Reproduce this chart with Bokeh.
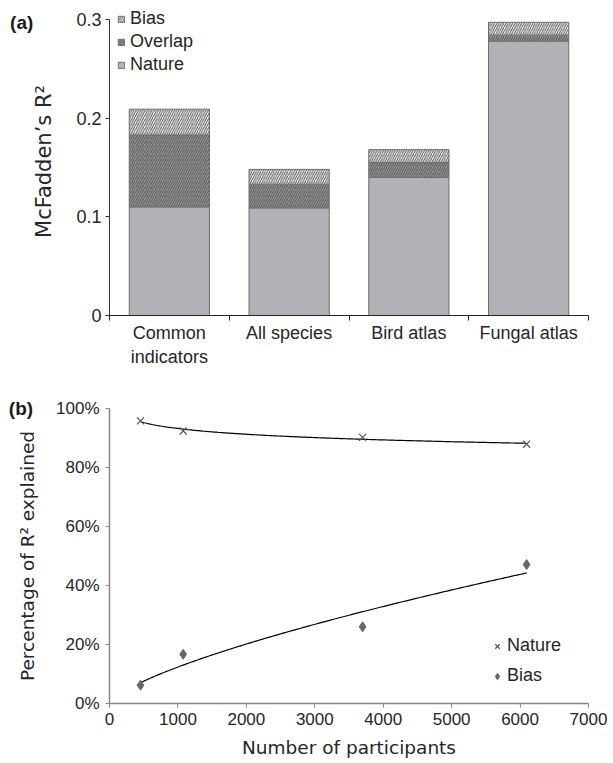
import numpy as np
from bokeh.plotting import figure
from bokeh.models import (ColumnDataSource, FixedTicker, Legend, LegendItem, Label,
                          Range1d)
from bokeh.layouts import column
from bokeh.embed import file_html
from bokeh.resources import INLINE

# ---------------- data ----------------
categories = ["Common\nindicators", "All species", "Bird atlas", "Fungal atlas"]
nature = [0.110, 0.109, 0.140, 0.278]
overlap = [0.073, 0.024, 0.015, 0.006]
bias = [0.026, 0.015, 0.013, 0.013]
r2_ticks = [0, 0.1, 0.2, 0.3]

participants = [453, 1077, 3699, 6096]
nature_pct = [95.8, 92.4, 90.2, 87.9]
bias_pct = [6.2, 16.7, 26.0, 47.1]
pct_ticks = [0, 20, 40, 60, 80, 100]
participant_ticks = [0, 1000, 2000, 3000, 4000, 5000, 6000, 7000]

FONT = "Liberation Sans"
TFONT = "DejaVu Sans"
TXT = "#262626"

# ---------------- panel (a) ----------------
n = len(categories)
xpos = [i + 0.5 for i in range(n)]
src = ColumnDataSource(dict(x=xpos, nature=nature, overlap=overlap, bias=bias))

# a little head-room above 0.3 so the legend is not clipped; the axis line stops at 0.3
p1 = figure(width=613, height=374, x_range=Range1d(0, n), y_range=Range1d(0, 0.312),
            output_backend="svg", toolbar_location=None,
            min_border_left=108, min_border_right=22, min_border_top=7, min_border_bottom=59)
rs = p1.vbar_stack(["nature", "overlap", "bias"], x="x", width=0.67, source=src,
                   fill_color=["#b1b2b6", "#a2a2a5", "white"],
                   line_color="#6e6e6e", line_width=1,
                   hatch_pattern=[" ", "/", "/"], hatch_color="#505050",
                   hatch_scale=4.5, hatch_weight=1)

legend1 = Legend(items=[LegendItem(label="Bias", renderers=[rs[2]]),
                        LegendItem(label="Overlap", renderers=[rs[1]]),
                        LegendItem(label="Nature", renderers=[rs[0]])],
                 location=(8, 240), glyph_width=8, glyph_height=8,
                 label_text_font_size="18px", label_text_font=FONT, label_text_color=TXT,
                 label_standoff=5, spacing=2, padding=0, margin=0, label_height=18,
                 border_line_color=None, background_fill_alpha=0)
p1.add_layout(legend1)

p1.xaxis.ticker = FixedTicker(ticks=xpos, minor_ticks=list(range(n + 1)))
p1.xaxis.major_label_overrides = {x: c for x, c in zip(xpos, categories)}
p1.xaxis.major_tick_out = 0
p1.xaxis.major_tick_in = 0
p1.xaxis.minor_tick_out = 5
p1.xaxis.minor_tick_in = 0
p1.xaxis.minor_tick_line_color = "#222222"
p1.xaxis.axis_line_color = "#222222"
p1.xaxis.major_label_standoff = 2

p1.yaxis.ticker = FixedTicker(ticks=r2_ticks, minor_ticks=[])
p1.yaxis.bounds = (r2_ticks[0], r2_ticks[-1])
p1.yaxis.major_label_overrides = {t: f"{t:g}" for t in r2_ticks}
p1.yaxis.major_tick_out = 4
p1.yaxis.major_tick_in = 0
p1.yaxis.major_label_standoff = 4
p1.yaxis.axis_line_color = "#333333"
p1.yaxis.major_tick_line_color = "#333333"
p1.yaxis.axis_label = "McFadden’s R²"
p1.yaxis.axis_label_standoff = 17

for ax in (p1.xaxis, p1.yaxis):
    ax.major_label_text_font = FONT
    ax.major_label_text_font_size = "18px"
    ax.major_label_text_color = TXT
    ax.axis_label_text_font = TFONT
    ax.axis_label_text_font_size = "21px"
    ax.axis_label_text_font_style = "normal"
    ax.axis_label_text_color = TXT

p1.grid.visible = False
p1.outline_line_color = None
p1.add_layout(Label(x=-0.83, y=0.2965, text="(a)", text_font=FONT, text_font_size="19px",
                    text_font_style="bold", text_baseline="middle", text_align="left",
                    text_color="#1a1a1a"), "left")

# ---------------- panel (b) ----------------
p2 = figure(width=613, height=389, x_range=Range1d(0, 7000), y_range=Range1d(0, 100),
            output_backend="svg", toolbar_location=None,
            min_border_left=109, min_border_right=25, min_border_top=34, min_border_bottom=60)


def power_fit(x, y):
    b, a = np.polyfit(np.log(x), np.log(y), 1)
    xs = np.linspace(min(x), max(x), 200)
    return xs, np.exp(a) * xs ** b


xs, ys = power_fit(participants, nature_pct)
p2.line(xs, ys, line_color="black", line_width=1.2)
xs, ys = power_fit(participants, bias_pct)
p2.line(xs, ys, line_color="black", line_width=1.2)

rn = p2.scatter(participants, nature_pct, marker="x", size=10, line_color="#555555", line_width=1.2)
rb = p2.scatter(participants, bias_pct, marker="diamond", size=10,
                fill_color="#666666", line_color="#666666")

legend2 = Legend(items=[LegendItem(label="Nature", renderers=[rn]),
                        LegendItem(label="Bias", renderers=[rb])],
                 location=(380, 17), glyph_width=16, glyph_height=16,
                 label_text_font_size="18px", label_text_font=FONT, label_text_color=TXT,
                 label_standoff=2, spacing=9, padding=0, margin=0, label_height=18,
                 border_line_color=None, background_fill_alpha=0)
p2.add_layout(legend2)

p2.xaxis.ticker = FixedTicker(ticks=participant_ticks, minor_ticks=[])
p2.yaxis.ticker = FixedTicker(ticks=pct_ticks, minor_ticks=[])
p2.yaxis.major_label_overrides = {t: f"{t}%" for t in pct_ticks}
p2.xaxis.axis_label = "Number of participants"
p2.yaxis.axis_label = "Percentage of R² explained"

for ax in (p2.xaxis, p2.yaxis):
    ax.axis_line_color = "#868686"
    ax.axis_line_width = 1.5
    ax.major_tick_line_color = "#868686"
    ax.major_tick_out = 4
    ax.major_tick_in = 0
    ax.major_label_text_font = FONT
    ax.major_label_text_font_size = "17px"
    ax.major_label_text_color = TXT
    ax.axis_label_text_font = TFONT
    ax.axis_label_text_font_size = "18.5px"
    ax.axis_label_text_font_style = "normal"
    ax.axis_label_text_color = TXT
p2.xaxis.major_label_standoff = 5
p2.xaxis.axis_label_standoff = 9
p2.yaxis.major_label_standoff = 6
p2.yaxis.axis_label_standoff = 15

p2.grid.visible = False
p2.outline_line_color = None
p2.add_layout(Label(x=-1471, y=100, text="(b)", text_font=FONT, text_font_size="19px",
                    text_font_style="bold", text_baseline="middle", text_align="left",
                    text_color="#1a1a1a"), "above")

layout = column(p1, p2)
open("out.html", "w").write(file_html(layout, INLINE))
